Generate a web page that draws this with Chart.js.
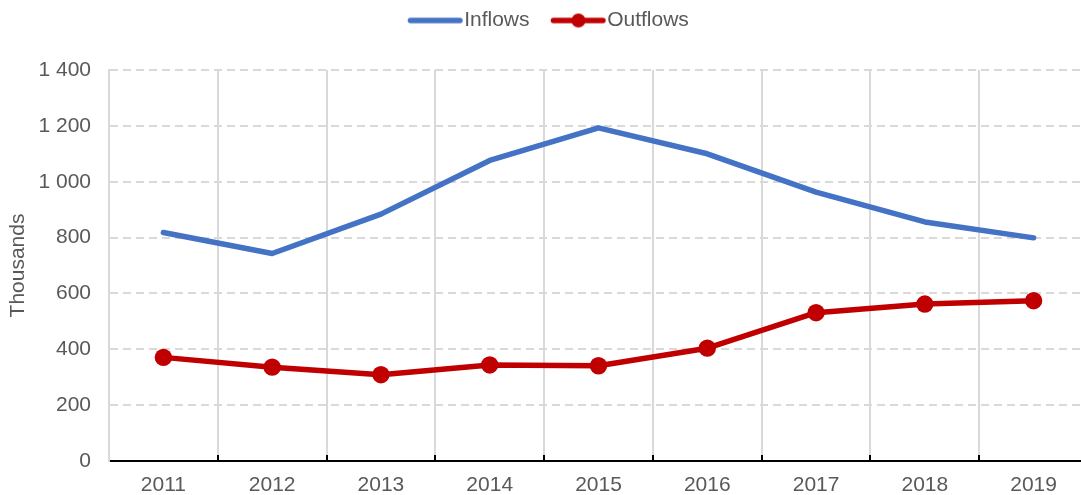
<!DOCTYPE html>
<html>
<head>
<meta charset="utf-8">
<script src="https://cdn.jsdelivr.net/npm/chart.js@4"></script>
<style>
  html, body { margin: 0; padding: 0; background: #fff; overflow: hidden; }
  #wrap { width: 1081px; height: 495px; overflow: hidden; }
  /* the plot runs slightly past the right edge */
  #inner { width: 1088px; height: 495px; }
</style>
</head>
<body>
<div id="wrap"><div id="inner"><canvas id="flowChart"></canvas></div></div>
<script>
var years = ["2011", "2012", "2013", "2014", "2015", "2016", "2017", "2018", "2019"];
var inflows = [818, 743, 884, 1076, 1193, 1100, 963, 856, 799];
var outflows = [371, 336, 309, 344, 341, 404, 531, 562, 574];

var blue = "#4472C4";
var red = "#C00000";
var grey = "#595959";
var fontFamily = "'Liberation Sans', Arial, sans-serif";

// legend swatches: a line, optionally with a dot in the middle
function swatch(color, withDot) {
    var c = document.createElement("canvas");
    c.width = 66;
    c.height = 18;
    var g = c.getContext("2d");
    g.strokeStyle = color;
    g.lineWidth = 5.5;
    g.lineCap = "round";
    g.beginPath();
    g.moveTo(12.5, 9);
    g.lineTo(62, 9);
    g.stroke();
    if (withDot) {
        g.fillStyle = color;
        g.beginPath();
        g.arc(37.5, 9, 7, 0, Math.PI * 2);
        g.fill();
    }
    return c;
}
var swatches = [swatch(blue, false), swatch(red, true)];

function spaced(v) {
    return String(v).replace(/\B(?=(\d{3})+(?!\d))/g, " ");
}

// give the legend a fixed band at the top and nudge it a little right
var legendBand = {
    id: "legendBand",
    beforeInit: function (chart) {
        var fit = chart.legend.fit;
        chart.legend.fit = function () {
            fit.call(this);
            this.height = 70;
            if (this.lineWidths && this.lineWidths.length) {
                this.lineWidths[0] -= 9;
            }
        };
    }
};

new Chart("flowChart", {
    type: "line",
    data: {
        labels: years,
        datasets: [{
            label: "Inflows",
            data: inflows,
            borderColor: blue,
            backgroundColor: blue,
            borderWidth: 5.5,
            borderCapStyle: "round",
            borderJoinStyle: "round",
            pointRadius: 0,
            tension: 0,
            fill: false
        }, {
            label: "Outflows",
            data: outflows,
            borderColor: red,
            backgroundColor: red,
            borderWidth: 5.5,
            borderJoinStyle: "round",
            pointRadius: 8.7,
            pointBackgroundColor: red,
            pointBorderWidth: 0,
            tension: 0,
            fill: false
        }]
    },
    plugins: [legendBand],
    options: {
        responsive: true,
        maintainAspectRatio: false,
        animation: false,
        layout: { padding: 0, autoPadding: false },
        plugins: {
            tooltip: { enabled: false },
            legend: {
                position: "top",
                labels: {
                    color: grey,
                    font: { family: fontFamily, size: 21 },
                    usePointStyle: true,
                    pointStyleWidth: 45.5,
                    padding: 10,
                    generateLabels: function (chart) {
                        return chart.data.datasets.map(function (ds, i) {
                            return {
                                text: i === 0 ? ds.label + "  " : ds.label,
                                fontColor: grey,
                                pointStyle: swatches[i],
                                datasetIndex: i,
                                hidden: false,
                                lineWidth: 0
                            };
                        });
                    }
                }
            }
        },
        scales: {
            x: {
                offset: true,
                grid: {
                    offset: true,
                    color: function (ctx) {
                        return ctx.index === years.length ? "rgba(0,0,0,0)" : "#d9d9d9";
                    },
                    lineWidth: 2,
                    drawTicks: true,
                    tickLength: -6,
                    tickColor: "#000",
                    tickWidth: 2
                },
                border: { display: true, color: "#000", width: 2 },
                ticks: {
                    color: grey,
                    font: { family: fontFamily, size: 21 },
                    padding: 18,
                    maxRotation: 0
                },
                afterFit: function (scale) {
                    scale.height = 34;
                    scale.paddingLeft = 0;
                    scale.paddingRight = 0;
                }
            },
            y: {
                min: 0,
                max: 1400,
                ticks: {
                    stepSize: 200,
                    color: grey,
                    padding: 18,
                    font: { family: fontFamily, size: 21 },
                    callback: function (v) { return spaced(v); }
                },
                grid: {
                    color: "#d9d9d9",
                    lineWidth: 2,
                    drawTicks: false
                },
                border: { display: true, color: "#d9d9d9", width: 2, dash: [8, 5] },
                title: {
                    display: true,
                    text: "Thousands",
                    color: grey,
                    padding: 6,
                    font: { family: fontFamily, size: 21 }
                },
                afterFit: function (scale) {
                    scale.width = 109;
                }
            }
        }
    }
});
</script>
</body>
</html>
